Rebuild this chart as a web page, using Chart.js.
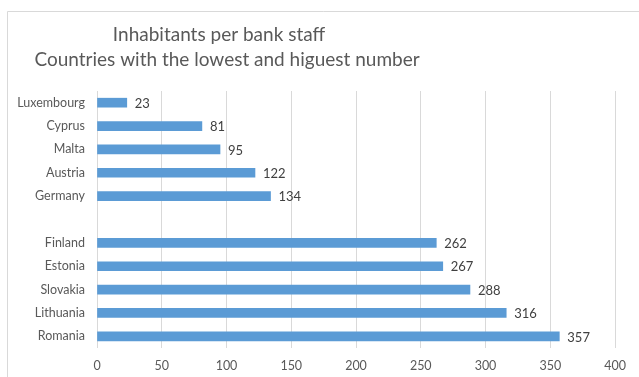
<!DOCTYPE html>
<html>
<head>
<meta charset="utf-8">
<script src="https://cdn.jsdelivr.net/npm/chart.js@4/dist/chart.umd.min.js"></script>
<style>
  html, body { margin: 0; padding: 0; background: #fff; }
  #wrap { width: 639px; height: 377px; position: relative; }
</style>
</head>
<body>
<div id="wrap"><canvas id="chart" width="639" height="377"></canvas></div>
<script>
// Inhabitants per bank staff, lowest five and highest five countries
const countries = ['Luxembourg', 'Cyprus', 'Malta', 'Austria', 'Germany', '',
                   'Finland', 'Estonia', 'Slovakia', 'Lithuania', 'Romania'];
const inhabitants = [23, 81, 95, 122, 134, null, 262, 267, 288, 316, 357];
const titleLines = ['Inhabitants per bank staff', 'Countries with the lowest and higuest number'];
const xTicks = [0, 50, 100, 150, 200, 250, 300, 350, 400];

const FONT = 'Lato, "Open Sans", sans-serif';

// white background plus the light frame on the top and left
const framePlugin = {
    id: 'frame',
    beforeDraw(chart) {
        const ctx = chart.ctx;
        ctx.save();
        ctx.fillStyle = '#fff';
        ctx.fillRect(0, 0, chart.width, chart.height);
        ctx.strokeStyle = '#d9d9d9';
        ctx.lineWidth = 1;
        ctx.beginPath();
        ctx.moveTo(7.5, chart.height);
        ctx.lineTo(7.5, 11.5);
        ctx.lineTo(chart.width, 11.5);
        ctx.stroke();
        ctx.restore();
    }
};

// two-line heading, sitting left of the plot centre
const headingPlugin = {
    id: 'heading',
    afterDraw(chart) {
        const ctx = chart.ctx;
        ctx.save();
        ctx.fillStyle = '#595959';
        ctx.font = '19px ' + FONT;
        ctx.textAlign = 'center';
        ctx.textBaseline = 'middle';
        ctx.fillText(titleLines[0], 219, 35);
        ctx.fillText(titleLines[1], 227, 60);
        ctx.restore();
    }
};

// value printed just past the end of each bar
const valueLabels = {
    id: 'valueLabels',
    afterDatasetsDraw(chart) {
        const ctx = chart.ctx;
        const meta = chart.getDatasetMeta(0);
        ctx.save();
        ctx.fillStyle = '#404040';
        ctx.font = '13px ' + FONT;
        ctx.textAlign = 'left';
        ctx.textBaseline = 'middle';
        meta.data.forEach((bar, i) => {
            const v = inhabitants[i];
            if (v === null) return;
            ctx.fillText(String(v), bar.x + 8, bar.y + 1);
        });
        ctx.restore();
    }
};

new Chart(document.getElementById('chart'), {
    type: 'bar',
    data: {
        labels: countries,
        datasets: [{
            data: inhabitants,
            backgroundColor: '#5b9bd5',
            barThickness: 9
        }]
    },
    options: {
        indexAxis: 'y',
        responsive: false,
        animation: false,
        events: [],
        layout: { padding: { top: 91, right: 24, bottom: 0, left: 0 } },
        plugins: {
            legend: { display: false },
            tooltip: { enabled: false },
            title: { display: false }
        },
        scales: {
            x: {
                min: 0,
                max: 400,
                afterBuildTicks(scale) {
                    scale.ticks = xTicks.map(v => ({ value: v }));
                },
                afterFit(scale) { scale.height = 29; },
                grid: { color: '#d9d9d9', drawTicks: false },
                border: { display: false },
                ticks: {
                    padding: 10,
                    color: '#595959',
                    font: { family: FONT, size: 12.5 }
                }
            },
            y: {
                afterFit(scale) { scale.width = 97; },
                grid: { display: false, drawTicks: false },
                border: { display: false },
                ticks: {
                    padding: 12,
                    color: '#595959',
                    font: { family: FONT, size: 12.5 }
                }
            }
        }
    },
    plugins: [framePlugin, headingPlugin, valueLabels]
});
</script>
</body>
</html>
